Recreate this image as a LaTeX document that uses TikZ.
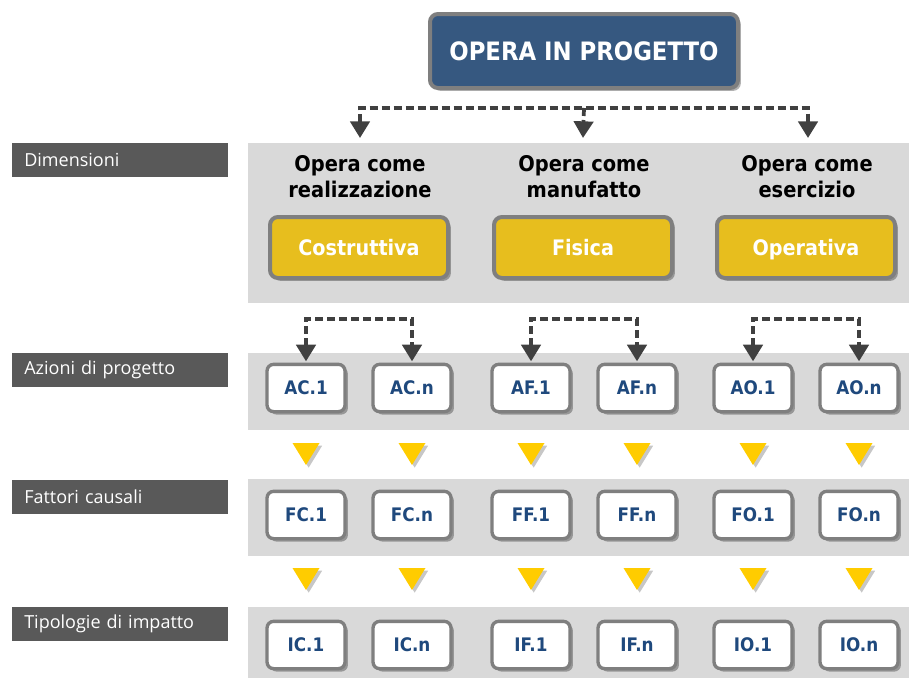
\documentclass[tikz,border=0pt]{standalone}
\usepackage{fontspec}
\setmainfont{DejaVu Sans}
\newfontfamily\condfont{DejaVu Sans Condensed}
\newfontfamily\labfont{Open Sans}
\usetikzlibrary{shadows,arrows.meta}
\definecolor{navy}{RGB}{54,88,128}
\definecolor{boxgray}{RGB}{127,127,127}
\definecolor{bandc}{RGB}{217,217,217}
\definecolor{labbg}{RGB}{89,89,89}
\definecolor{gold}{RGB}{231,190,30}
\definecolor{tric}{RGB}{255,204,0}
\definecolor{txtblue}{RGB}{31,73,125}
\definecolor{arrowc}{RGB}{64,64,64}
\tikzset{
  shad/.style={drop shadow={opacity=0.3,shadow xshift=2.2pt,shadow yshift=-2.2pt,fill=black}},
  trishad/.style={drop shadow={opacity=0.22,shadow xshift=2pt,shadow yshift=-2pt,fill=black}},
  topbox/.style={draw=boxgray,line width=3pt,fill=navy,rounded corners=6pt,
    minimum width=231pt,minimum height=55.5pt,text=white,text height=14pt,text depth=0.5pt,
    font=\condfont\bfseries\fontsize{19}{23}\selectfont,shad},
  dimbox/.style={draw=boxgray,line width=3pt,fill=gold,rounded corners=6pt,
    minimum width=133.5pt,minimum height=45.75pt,text=white,text height=12pt,text depth=0.5pt,
    font=\condfont\bfseries\fontsize{16}{19}\selectfont,shad},
  smallbox/.style={draw=boxgray,line width=2.5pt,fill=white,rounded corners=5pt,
    minimum width=58.5pt,minimum height=35.5pt,text=txtblue,text height=10.5pt,text depth=0.5pt,
    font=\condfont\bfseries\fontsize{14}{16}\selectfont,shad},
  head/.style={align=center,text=black,font=\condfont\bfseries\fontsize{16.2}{19.5}\selectfont},
  lab/.style={fill=labbg,text=white,anchor=north west,minimum width=162pt,minimum height=25pt,
    text width=144pt,inner xsep=9pt,align=left,font=\labfont\fontsize{13.5}{15}\selectfont},
  bandr/.style={fill=bandc},
  dashl/.style={draw=arrowc,line width=2.8pt,dash pattern=on 6pt off 3pt},
  tipa/.tip={Triangle[length=12.5pt,width=14.5pt]},
  trishape/.style={fill=tric,trishad},
}
\begin{document}
\begin{tikzpicture}[x=0.75pt,y=-0.75pt]
\useasboundingbox (0,0) rectangle (909,678);
% bands
\fill[bandr] (248,143) rectangle (909,303);
\fill[bandr] (248,353) rectangle (909,430);
\fill[bandr] (248,479) rectangle (909,556);
\fill[bandr] (248,607) rectangle (909,678);
% left labels
\node[lab] (l1) at (12,143) {Dimensioni};
\node[lab] (l2) at (12,353) {Azioni di progetto};
\node[lab] (l3) at (12,480) {Fattori causali};
\node[lab] (l4) at (12,607) {Tipologie di impatto};
% top box
\node[topbox] (top) at (584,51) {OPERA IN PROGETTO};
% headings
\node[head] (h1) at (360,177) {Opera come\\realizzazione};
\node[head] (h2) at (584,177) {Opera come\\manufatto};
\node[head] (h3) at (807,177) {Opera come\\esercizio};
% dimension boxes
\node[dimbox] (d1) at (359,247.5) {Costruttiva};
\node[dimbox] (d2) at (583,247.5) {Fisica};
\node[dimbox] (d3) at (806,247.5) {Operativa};
% top dashed connectors
\coordinate (e1) at (360,138);
\coordinate (e2) at (583,138);
\coordinate (e3) at (808,138);
\draw[dashl,tipa-tipa,arrowc] (e1) -- (e1 |- 0,108) -- (e3 |- 0,108) -- (e3);
\draw[dashl,-tipa,arrowc] (top.south |- 0,108) -- (e2);
% small boxes
\node[smallbox] (AC1) at (306,388) {AC.1};
\node[smallbox] (ACn) at (412,388) {AC.n};
\node[smallbox] (AF1) at (531,388) {AF.1};
\node[smallbox] (AFn) at (637,388) {AF.n};
\node[smallbox] (AO1) at (753,388) {AO.1};
\node[smallbox] (AOn) at (859,388) {AO.n};
\node[smallbox] (FC1) at (306,515) {FC.1};
\node[smallbox] (FCn) at (412,515) {FC.n};
\node[smallbox] (FF1) at (531,515) {FF.1};
\node[smallbox] (FFn) at (637,515) {FF.n};
\node[smallbox] (FO1) at (753,515) {FO.1};
\node[smallbox] (FOn) at (859,515) {FO.n};
\node[smallbox] (IC1) at (306,645) {IC.1};
\node[smallbox] (ICn) at (412,645) {IC.n};
\node[smallbox] (IF1) at (531,645) {IF.1};
\node[smallbox] (IFn) at (637,645) {IF.n};
\node[smallbox] (IO1) at (753,645) {IO.1};
\node[smallbox] (IOn) at (859,645) {IO.n};
% dashed group connectors
\foreach \a/\b in {AC1/ACn,AF1/AFn,AO1/AOn}{
  \draw[dashl,arrowc,tipa-tipa,shorten <=1pt,shorten >=1pt] (\a.north) -- (\a.north |- 0,319) -- (\b.north |- 0,319) -- (\b.north);
}
% yellow triangles
\foreach \x in {306,412,531,637,753,859}{
  \fill[trishape] (\x-13.5,443) -- (\x+13.5,443) -- (\x,465) -- cycle;
  \fill[trishape] (\x-13.5,568) -- (\x+13.5,568) -- (\x,590) -- cycle;
}
\end{tikzpicture}
\end{document}
